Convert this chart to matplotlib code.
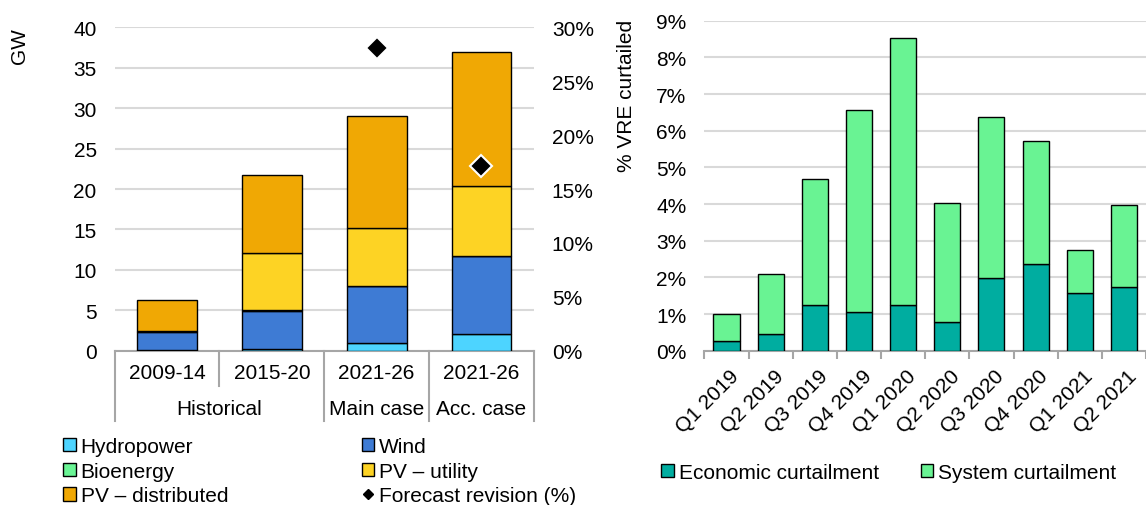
import numpy as np
import matplotlib.pyplot as plt
from matplotlib.patches import Patch
from matplotlib.lines import Line2D
from matplotlib.ticker import FuncFormatter
import matplotlib.transforms as mtransforms

plt.rcParams['font.family'] = ['Liberation Sans', 'DejaVu Sans']
plt.rcParams['font.size'] = 15

# left chart: capacity additions (GW)
periods = ['2009-14', '2015-20', '2021-26', '2021-26']
groups = ['Historical', 'Main case', 'Acc. case']
group_sizes = [2, 1, 1]
hydro = [0.05, 0.25, 1.0, 2.07]
wind = [2.25, 4.7, 6.95, 9.6]
bio = [0.1, 0.1, 0.1, 0.1]
pv_utility = [0.05, 7.05, 7.15, 8.63]
pv_distributed = [3.85, 9.6, 13.8, 16.5]
revision = [np.nan, np.nan, 28.1, 17.1]  # % on right axis

# right chart: % VRE curtailed
quarters = ['Q1 2019', 'Q2 2019', 'Q3 2019', 'Q4 2019', 'Q1 2020',
            'Q2 2020', 'Q3 2020', 'Q4 2020', 'Q1 2021', 'Q2 2021']
economic = [0.26, 0.46, 1.25, 1.06, 1.25, 0.79, 1.98, 2.36, 1.57, 1.75]
system = [0.74, 1.63, 3.43, 5.51, 7.27, 3.25, 4.39, 3.37, 1.17, 2.23]

c_hydro = '#4DD4FF'
c_wind = '#3E7BD4'
c_bio = '#6AF595'
c_pvu = '#FDD324'
c_pvd = '#F0A804'
c_econ = '#00ADA0'
c_sys = '#69F393'
grid_c = '#D9D9D9'
axis_c = '#A6A6A6'

fig = plt.figure(figsize=(11.46, 5.06), dpi=100)

# ---------- left chart ----------
ax1 = fig.add_axes([0.1001, 0.3049, 0.3657, 0.6391])
x = np.arange(len(periods))
w = 0.57
bottom = np.zeros(len(periods))
for vals, col, lab in [(hydro, c_hydro, 'Hydropower'), (wind, c_wind, 'Wind'),
                       (bio, c_bio, 'Bioenergy'), (pv_utility, c_pvu, 'PV – utility'),
                       (pv_distributed, c_pvd, 'PV – distributed')]:
    ax1.bar(x, vals, w, bottom=bottom, color=col, edgecolor='black', linewidth=1, label=lab, zorder=3)
    bottom += np.array(vals)

ax1.set_xlim(-0.5, len(periods) - 0.5)
ax1.set_ylim(0, 40)
ax1.set_yticks(np.arange(0, 41, 5))
ax1.set_xticks([])
ax1.yaxis.grid(True, color=grid_c, linewidth=1.5, zorder=0)
ax1.set_axisbelow(True)
ax1.tick_params(axis='y', length=0, pad=13)
for s in ['top', 'right', 'left']:
    ax1.spines[s].set_visible(False)
ax1.spines['bottom'].set_color(axis_c)
ax1.spines['bottom'].set_linewidth(1.5)

# category / group axis under the left chart
trans = ax1.get_xaxis_transform()
edges = np.concatenate([[0], np.cumsum(group_sizes)])
for i in range(len(periods) + 1):
    xb = i - 0.5
    depth = -0.2165 if i in edges else -0.108
    ax1.plot([xb, xb], [0, depth], transform=trans, clip_on=False, color=axis_c, lw=1.5)
for i, p in enumerate(periods):
    ax1.text(i, -0.067, p, transform=trans, ha='center', va='center')
for g, a, b in zip(groups, edges[:-1], edges[1:]):
    ax1.text((a + b - 1) / 2, -0.180, g, transform=trans, ha='center', va='center')

ax1r = ax1.twinx()
ax1r.set_ylim(0, 30)
ax1r.set_yticks(np.arange(0, 31, 5))
ax1r.yaxis.set_major_formatter(FuncFormatter(lambda v, _: f'{v:.0f}%'))
ax1r.tick_params(axis='y', length=0, pad=13)
for s in ax1r.spines.values():
    s.set_visible(False)
ax1r.plot(x, revision, linestyle='none', marker='D', markersize=11.5,
          markerfacecolor='black', markeredgecolor='white', markeredgewidth=1.5, zorder=5)

fig.text(19 / 1146, 1 - 28 / 506, 'GW', rotation=90, ha='center', va='top')

h_left = [Patch(facecolor=c_hydro, edgecolor='black'),
          Patch(facecolor=c_bio, edgecolor='black'),
          Patch(facecolor=c_pvd, edgecolor='black'),
          Patch(facecolor=c_wind, edgecolor='black'),
          Patch(facecolor=c_pvu, edgecolor='black'),
          Line2D([], [], linestyle='none', marker='D', markersize=5, color='black')]
l_left = ['Hydropower', 'Bioenergy', 'PV – distributed', 'Wind', 'PV – utility',
          'Forecast revision (%)']
fig.legend(h_left, l_left, loc='upper left', bbox_to_anchor=(63 / 1146, 1 - 438 / 506),
           ncol=2, frameon=False, borderpad=0, borderaxespad=0, handlelength=0.6,
           handleheight=0.6, handletextpad=0.25, labelspacing=0.27, columnspacing=6.4)

# ---------- right chart ----------
ax2 = fig.add_axes([0.6147, 0.3049, 0.3853, 0.6522])
xq = np.arange(len(quarters))
wq = 0.59
ax2.bar(xq, economic, wq, color=c_econ, edgecolor='black', linewidth=1, zorder=3,
        label='Economic curtailment')
ax2.bar(xq, system, wq, bottom=economic, color=c_sys, edgecolor='black', linewidth=1,
        zorder=3, label='System curtailment')
ax2.set_xlim(-0.5, len(quarters) - 0.5)
ax2.set_ylim(0, 9)
ax2.set_yticks(np.arange(0, 10, 1))
ax2.yaxis.set_major_formatter(FuncFormatter(lambda v, _: f'{v:.0f}%'))
ax2.yaxis.grid(True, color=grid_c, linewidth=1.5, zorder=0)
ax2.set_axisbelow(True)
ax2.tick_params(axis='y', length=0, pad=13)
for s in ['top', 'right', 'left']:
    ax2.spines[s].set_visible(False)
ax2.spines['bottom'].set_color(axis_c)
ax2.spines['bottom'].set_linewidth(1.5)
ax2.set_xticks(xq)
ax2.set_xticklabels(quarters, rotation=45, ha='right', va='top', rotation_mode='anchor')
ax2.set_xticks(np.arange(-0.5, len(quarters), 1), minor=True)
ax2.tick_params(axis='x', which='major', length=0, pad=11)
ax2.tick_params(axis='x', which='minor', length=6, width=1.5, color=axis_c)
offset = mtransforms.ScaledTranslation(0.03, 0, fig.dpi_scale_trans)
for lbl in ax2.get_xticklabels():
    lbl.set_transform(lbl.get_transform() + offset)

fig.text(627 / 1146, 1 - 20 / 506, '% VRE curtailed', rotation=90, ha='center', va='top')

fig.legend(*ax2.get_legend_handles_labels(), loc='upper left',
           bbox_to_anchor=(661 / 1146, 1 - 464 / 506), ncol=2, frameon=False,
           borderpad=0, borderaxespad=0, handlelength=0.6, handleheight=0.6,
           handletextpad=0.25, columnspacing=2.0)

fig.savefig('out.png', dpi=100)
